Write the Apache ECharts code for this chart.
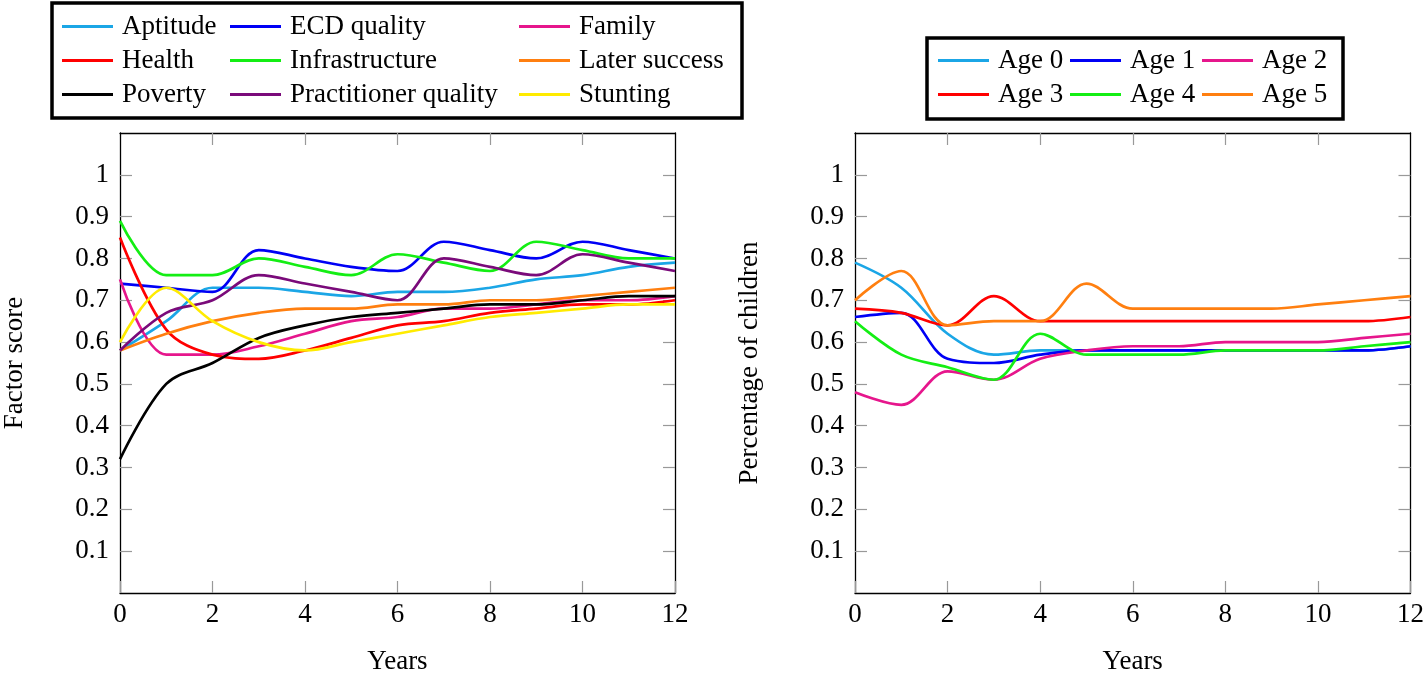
<!DOCTYPE html>
<html>
<head>
<meta charset="utf-8">
<script src="https://cdn.jsdelivr.net/npm/echarts@6/dist/echarts.min.js"></script>
<style>
html,body{margin:0;padding:0;background:#fff;}
#c{width:1427px;height:680px;}
</style>
</head>
<body>
<div id="c"></div>
<script>
// ---------- data ----------
const years = [0,1,2,3,4,5,6,7,8,9,10,11,12];
const xTicks = [0,2,4,6,8,10,12];
const yTicks = [0.1,0.2,0.3,0.4,0.5,0.6,0.7,0.8,0.9,1];

// Left chart: factor scores
const factorNames = ['Aptitude','ECD quality','Family','Health','Infrastructure','Later success','Poverty','Practitioner quality','Stunting'];
const aptitude     = [0.58,0.65,0.73,0.73,0.72,0.71,0.72,0.72,0.73,0.75,0.76,0.78,0.79];
const ecdQuality   = [0.74,0.73,0.72,0.82,0.80,0.78,0.77,0.84,0.82,0.80,0.84,0.82,0.80];
const family       = [0.75,0.57,0.57,0.59,0.62,0.65,0.66,0.68,0.68,0.69,0.70,0.70,0.71];
const health       = [0.85,0.63,0.57,0.56,0.58,0.61,0.64,0.65,0.67,0.68,0.69,0.69,0.70];
const infrastructure = [0.89,0.76,0.76,0.80,0.78,0.76,0.81,0.79,0.77,0.84,0.82,0.80,0.80];
const laterSuccess = [0.58,0.62,0.65,0.67,0.68,0.68,0.69,0.69,0.70,0.70,0.71,0.72,0.73];
const poverty      = [0.32,0.50,0.55,0.61,0.64,0.66,0.67,0.68,0.69,0.69,0.70,0.71,0.71];
const practitioner = [0.58,0.67,0.70,0.76,0.74,0.72,0.70,0.80,0.78,0.76,0.81,0.79,0.77];
const stunting     = [0.60,0.73,0.65,0.60,0.58,0.60,0.62,0.64,0.66,0.67,0.68,0.69,0.69];
const factorValues = [aptitude,ecdQuality,family,health,infrastructure,laterSuccess,poverty,practitioner,stunting];

// Right chart: percentage of children by age
const ageNames = ['Age 0','Age 1','Age 2','Age 3','Age 4','Age 5'];
const age0 = [0.79,0.73,0.62,0.57,0.58,0.58,0.58,0.58,0.58,0.58,0.58,0.58,0.59];
const age1 = [0.66,0.67,0.56,0.55,0.57,0.58,0.58,0.58,0.58,0.58,0.58,0.58,0.59];
const age2 = [0.48,0.45,0.53,0.51,0.56,0.58,0.59,0.59,0.60,0.60,0.60,0.61,0.62];
const age3 = [0.68,0.67,0.64,0.71,0.65,0.65,0.65,0.65,0.65,0.65,0.65,0.65,0.66];
const age4 = [0.65,0.57,0.54,0.51,0.62,0.57,0.57,0.57,0.58,0.58,0.58,0.59,0.60];
const age5 = [0.70,0.77,0.64,0.65,0.65,0.74,0.68,0.68,0.68,0.68,0.69,0.70,0.71];
const ageValues = [age0,age1,age2,age3,age4,age5];

// ---------- styles ----------
const factorColors = ['#1BA6E6','#0000F5','#E6168C','#FF0000','#14EE14','#FF7F10','#000000','#7A0A7A','#FFEB00'];
const ageColors = ['#1BA6E6','#0000F5','#E6168C','#FF0000','#14EE14','#FF7F10'];
const FONT = '"Liberation Serif", "DejaVu Serif", serif';
const FS = 27;

const chart = echarts.init(document.getElementById('c'), null, {renderer:'canvas'});

const grids = [
  {left:119, top:133, width:556, height:469},
  {left:855, top:133, width:556, height:469}
];

function xAxes(gi, name){
  return [
    {type:'value', gridIndex:gi, position:'bottom', min:0, max:12, interval:2,
     name:name, nameLocation:'middle', nameGap:55,
     nameTextStyle:{fontFamily:FONT, fontSize:FS, color:'#000'},
     axisLine:{show:true, onZero:false, lineStyle:{color:'#000', width:1.3}},
     axisTick:{show:true, inside:true, length:12, customValues:xTicks, lineStyle:{color:'#999', width:1.2}},
     axisLabel:{show:true, margin:8, customValues:xTicks, fontFamily:FONT, fontSize:FS, color:'#000'},
     splitLine:{show:false}},
    {type:'value', gridIndex:gi, position:'top', min:0, max:12, interval:2,
     axisLine:{show:true, onZero:false, lineStyle:{color:'#000', width:1.3}},
     axisTick:{show:true, inside:true, length:12, customValues:xTicks.slice(1,-1), lineStyle:{color:'#999', width:1.2}},
     axisLabel:{show:false}, splitLine:{show:false}}
  ];
}
function yAxes(gi, name){
  return [
    {type:'value', gridIndex:gi, position:'left', min:0, max:1.1,
     name:name, nameLocation:'middle', nameRotate:90, nameGap:92,
     nameTextStyle:{fontFamily:FONT, fontSize:FS, color:'#000'},
     axisLine:{show:true, onZero:false, lineStyle:{color:'#000', width:1.3}},
     axisTick:{show:true, inside:true, length:12, customValues:yTicks, lineStyle:{color:'#999', width:1.2}},
     axisLabel:{show:true, margin:11, customValues:yTicks, fontFamily:FONT, fontSize:FS, color:'#000',
       formatter:v=>String(Math.round(v*10)/10)},
     splitLine:{show:false}},
    {type:'value', gridIndex:gi, position:'right', min:0, max:1.1,
     axisLine:{show:true, onZero:false, lineStyle:{color:'#000', width:1.3}},
     axisTick:{show:true, inside:true, length:12, customValues:yTicks, lineStyle:{color:'#999', width:1.2}},
     axisLabel:{show:false}, splitLine:{show:false}}
  ];
}

const series = [];
factorNames.forEach((n,i)=>{
  series.push({name:n, type:'line', xAxisIndex:0, yAxisIndex:0, smooth:0.35, showSymbol:false,
    data: years.map((x,k)=>[x, factorValues[i][k]]),
    itemStyle:{color:factorColors[i]}, lineStyle:{color:factorColors[i], width:2.7}, z:2});
});
ageNames.forEach((n,i)=>{
  series.push({name:n, type:'line', xAxisIndex:2, yAxisIndex:2, smooth:0.35, showSymbol:false,
    data: years.map((x,k)=>[x, ageValues[i][k]]),
    itemStyle:{color:ageColors[i]}, lineStyle:{color:ageColors[i], width:2.7}, z:2});
});

function legendCol(names, left, top){
  return {orient:'vertical', left:left, top:top, padding:0, itemGap:7,
    itemWidth:51, itemHeight:3, icon:'rect', selectedMode:false, data:names,
    textStyle:{fontFamily:FONT, fontSize:FS, lineHeight:27, color:'#000', padding:[0,0,-4,4]}};
}

const legends = [
  legendCol([factorNames[0],factorNames[3],factorNames[6]], 62, 13),
  legendCol([factorNames[1],factorNames[4],factorNames[7]], 230, 13),
  legendCol([factorNames[2],factorNames[5],factorNames[8]], 519, 13),
  legendCol([ageNames[0],ageNames[3]], 938, 47),
  legendCol([ageNames[1],ageNames[4]], 1070, 47),
  legendCol([ageNames[2],ageNames[5]], 1202, 47)
];

chart.setOption({
  animation:false,
  backgroundColor:'#fff',
  grid: grids,
  xAxis: [...xAxes(0,'Years'), ...xAxes(1,'Years')],
  yAxis: [...yAxes(0,'Factor score'), ...yAxes(1,'Percentage of children')],
  legend: legends,
  graphic: [
    {type:'rect', shape:{x:52, y:3, width:690, height:115}, style:{fill:'none', stroke:'#000', lineWidth:3.5}, z:0},
    {type:'rect', shape:{x:927, y:38, width:416, height:81}, style:{fill:'none', stroke:'#000', lineWidth:3.5}, z:0}
  ],
  series: series
});
</script>
</body>
</html>
